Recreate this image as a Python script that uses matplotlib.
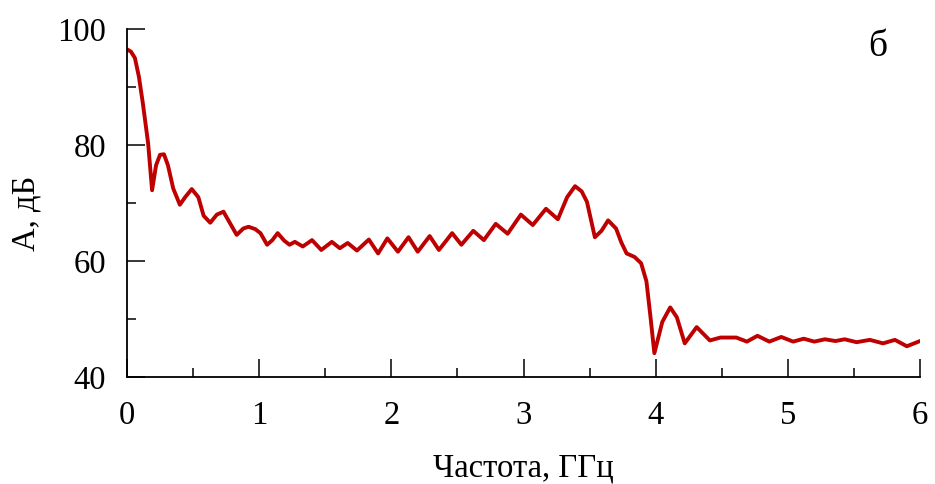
import matplotlib
matplotlib.use("Agg")
import matplotlib.pyplot as plt
from matplotlib.ticker import MultipleLocator

plt.rcParams['font.family'] = ['Liberation Serif', 'DejaVu Serif']

# frequency, GHz
freq = [0.00, 0.03, 0.06, 0.09, 0.12, 0.16, 0.19, 0.22, 0.25, 0.28, 0.31, 0.35,
        0.40, 0.44, 0.49, 0.54, 0.58, 0.63, 0.68, 0.73, 0.78, 0.83, 0.88, 0.92,
        0.97, 1.01, 1.06, 1.10, 1.14, 1.19, 1.23, 1.27, 1.33, 1.40, 1.47, 1.55,
        1.61, 1.67, 1.74, 1.83, 1.90, 1.97, 2.05, 2.13, 2.20, 2.29, 2.36, 2.46,
        2.53, 2.62, 2.70, 2.79, 2.88, 2.98, 3.07, 3.17, 3.26, 3.33, 3.39, 3.44,
        3.48, 3.54, 3.59, 3.64, 3.70, 3.74, 3.78, 3.84, 3.89, 3.93, 3.96, 3.99,
        4.05, 4.11, 4.16, 4.22, 4.31, 4.41, 4.49, 4.61, 4.69, 4.77, 4.86, 4.95,
        5.04, 5.12, 5.20, 5.28, 5.36, 5.43, 5.52, 5.62, 5.72, 5.81, 5.90, 6.00]
# amplitude, dB
ampl = [96.5, 96.1, 95.0, 91.8, 87.2, 80.3, 72.2, 76.5, 78.3, 78.4, 76.5, 72.5,
        69.7, 71.0, 72.4, 71.0, 67.8, 66.6, 68.0, 68.5, 66.5, 64.5, 65.6, 65.9,
        65.5, 64.8, 62.8, 63.6, 64.8, 63.5, 62.8, 63.3, 62.5, 63.6, 61.9, 63.3,
        62.2, 63.1, 61.8, 63.7, 61.3, 63.9, 61.6, 64.1, 61.6, 64.3, 61.9, 64.8,
        62.8, 65.2, 63.6, 66.4, 64.7, 68.0, 66.2, 69.0, 67.2, 71.0, 72.9, 72.0,
        70.2, 64.1, 65.2, 67.0, 65.6, 63.2, 61.3, 60.7, 59.6, 56.5, 50.5, 44.1,
        49.5, 52.0, 50.3, 45.8, 48.6, 46.3, 46.8, 46.8, 46.1, 47.1, 46.1, 46.9,
        46.1, 46.6, 46.1, 46.5, 46.2, 46.5, 46.0, 46.4, 45.8, 46.4, 45.3, 46.2]

fig = plt.figure(figsize=(9.35, 4.84), dpi=100)
ax = fig.add_axes([0.1358, 0.2211, 0.8482, 0.7190])

ax.plot(freq, ampl, color='#bf0000', lw=2.8, solid_joinstyle='round',
        solid_capstyle='round')

ax.set_xlim(0, 6)
ax.set_ylim(40, 100)
ax.xaxis.set_major_locator(MultipleLocator(1))
ax.xaxis.set_minor_locator(MultipleLocator(0.5))
ax.yaxis.set_major_locator(MultipleLocator(20))
ax.yaxis.set_minor_locator(MultipleLocator(10))

for s in ['top', 'right']:
    ax.spines[s].set_visible(False)
for s in ['left', 'bottom']:
    ax.spines[s].set_linewidth(1.3)

ax.tick_params(which='major', direction='in', length=13, width=1.1,
               labelsize=23.5, colors='black')
ax.tick_params(which='minor', direction='in', length=6.5, width=1.1)
ax.tick_params(axis='x', which='major', pad=17)
ax.tick_params(axis='y', which='major', pad=15)

ax.set_xlabel('Частота, ГГц', fontsize=23.5, labelpad=16)
ax.set_ylabel('А, дБ', fontsize=23.5)
ax.yaxis.set_label_coords(-0.108, 0.47)

ax.text(0.935, 0.95, 'б', transform=ax.transAxes, fontsize=27,
        ha='left', va='center')

fig.savefig('out.png', dpi=100)
